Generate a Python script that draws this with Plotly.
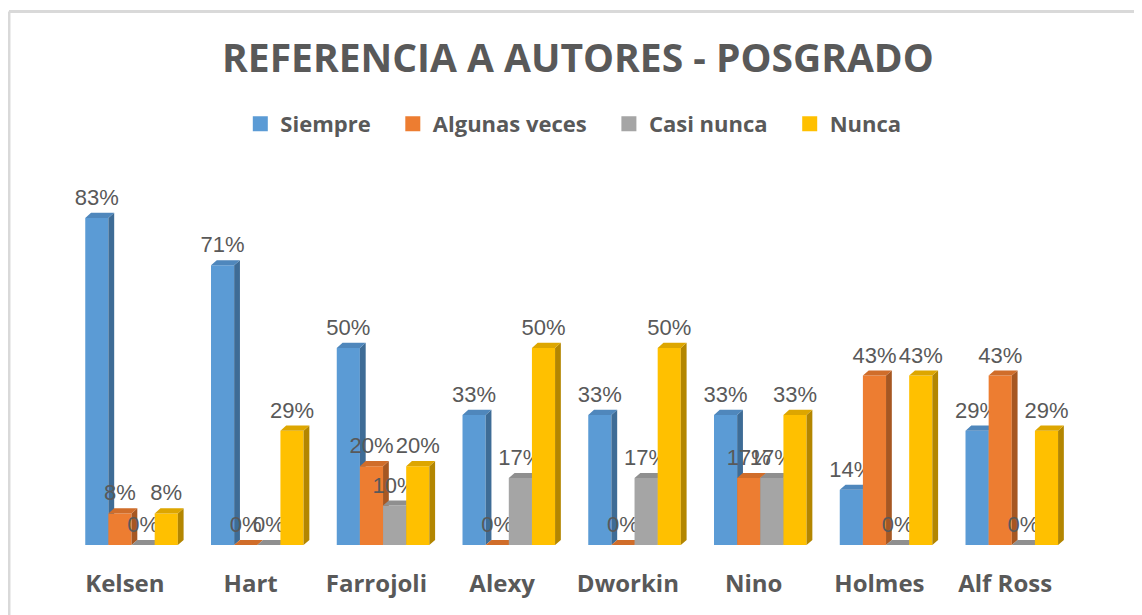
import plotly.graph_objects as go

categories = ["Kelsen", "Hart", "Farrojoli", "Alexy", "Dworkin", "Nino", "Holmes", "Alf Ross"]
series_names = ["Siempre", "Algunas veces", "Casi nunca", "Nunca"]
siempre = [83, 71, 50, 33, 33, 33, 14, 29]
algunas = [8, 0, 20, 0, 0, 17, 43, 43]
casi = [0, 0, 10, 17, 17, 17, 0, 0]
nunca = [8, 29, 20, 50, 50, 33, 43, 29]
values = [siempre, algunas, casi, nunca]

front_colors = ["#5B9BD5", "#ED7D31", "#A5A5A5", "#FFC000"]
side_colors = ["#3E6C96", "#A65722", "#737373", "#B38600"]
top_colors = ["#4F87BC", "#D06D2A", "#8F8F8F", "#DDA600"]

FONT = "Open Sans"
TXT = "#595959"

# geometry (category units / value units)
start = -0.315
bw = 0.184
dx = 0.046
dy = 1.3

fig = go.Figure()

xs_idx = list(range(len(categories)))
for s, (name, vals) in enumerate(zip(series_names, values)):
    fx, fy, sx, sy, tx, ty = [], [], [], [], [], []
    lx, ly, lt = [], [], []
    for c, v in zip(xs_idx, vals):
        x0 = c + start + s * bw
        x1 = x0 + bw
        fx += [x0, x1, x1, x0, x0, None]
        fy += [0, 0, v, v, 0, None]
        sx += [x1, x1 + dx, x1 + dx, x1, x1, None]
        sy += [0, dy, v + dy, v, 0, None]
        tx += [x0, x0 + dx, x1 + dx, x1, x0, None]
        ty += [v, v + dy, v + dy, v, v, None]
        lx.append((x0 + x1) / 2)
        ly.append(v + dy + 0.6)
        lt.append(f"{v}%")
    fig.add_trace(go.Scatter(x=fx, y=fy, mode="lines", fill="toself", fillcolor=front_colors[s],
                             line=dict(width=0), hoverinfo="skip", showlegend=False))
    fig.add_trace(go.Scatter(x=sx, y=sy, mode="lines", fill="toself", fillcolor=side_colors[s],
                             line=dict(width=0), hoverinfo="skip", showlegend=False))
    fig.add_trace(go.Scatter(x=tx, y=ty, mode="lines", fill="toself", fillcolor=top_colors[s],
                             line=dict(width=0), hoverinfo="skip", showlegend=False))
    fig.add_trace(go.Scatter(x=lx, y=ly, mode="text", text=lt, textposition="top center",
                             textfont=dict(family="Liberation Sans", size=22, color=TXT),
                             hoverinfo="skip", showlegend=False, cliponaxis=False))

for s, name in enumerate(series_names):
    fig.add_trace(go.Scatter(x=[None], y=[None], mode="markers",
                             name=f"<b>{name}</b>\u00a0\u00a0\u00a0",
                             marker=dict(symbol="square", size=15, color=front_colors[s])))

fig.update_layout(
    width=1134, height=607,
    margin=dict(l=54, r=74, t=142, b=70, autoexpand=False),
    paper_bgcolor="white", plot_bgcolor="white",
    title=dict(text="<b>REFERENCIA A AUTORES - POSGRADO</b>", x=0.5026, xanchor="center",
               xref="container", y=0.9176, yanchor="middle", yref="container",
               font=dict(family=FONT, size=39, color=TXT)),
    legend=dict(orientation="h", x=0.506, xref="container", xanchor="center",
                y=0.809, yref="container", yanchor="middle",
                font=dict(family=FONT, size=22, color=TXT),
                itemclick=False, traceorder="normal"),
    showlegend=True,
    xaxis=dict(range=[-0.5, 7.5], tickmode="array", tickvals=xs_idx,
               ticktext=[f"<b>{c}</b>" for c in categories],
               showgrid=False, zeroline=False, showline=False, ticks="outside", ticklen=17,
               tickcolor="rgba(0,0,0,0)", automargin=False,
               tickfont=dict(family=FONT, size=24, color=TXT)),
    yaxis=dict(range=[0, 100.25], showgrid=False, zeroline=False, showline=False,
               showticklabels=False, automargin=False),
)

# chart border (top and left edges)
fig.add_shape(type="line", xref="paper", yref="paper", x0=-0.0527, x1=1.1, y0=1.3506, y1=1.3506,
              line=dict(color="#D9D9D9", width=3))
fig.add_shape(type="line", xref="paper", yref="paper", x0=-0.0527, x1=-0.0527, y0=1.3506, y1=-0.2,
              line=dict(color="#D9D9D9", width=3))

fig.write_html("out.html")
